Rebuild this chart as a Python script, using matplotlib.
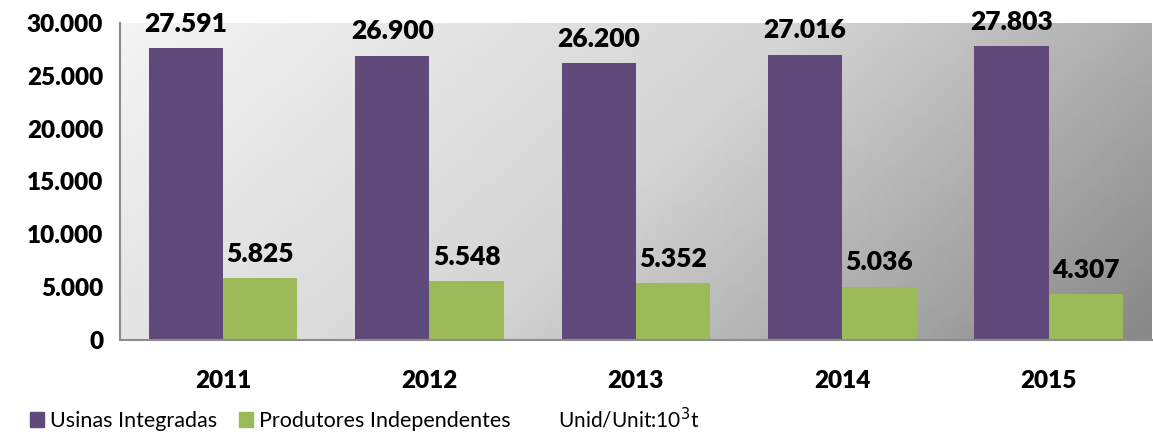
import numpy as np
import matplotlib.pyplot as plt
from matplotlib.colors import LinearSegmentedColormap
from matplotlib.patches import Rectangle

years = ['2011', '2012', '2013', '2014', '2015']
usinas = [27591, 26900, 26200, 27016, 27803]
produtores = [5825, 5548, 5352, 5036, 4307]
series_names = ['Usinas Integradas', 'Produtores Independentes']
yticks = [0, 5000, 10000, 15000, 20000, 25000, 30000]

PURPLE = '#604A7B'
GREEN = '#9BBB59'
BOLD = 'heavy'

plt.rcParams['font.family'] = ['Lato', 'DejaVu Sans']


def fmt(v):
    # thousands separator as dot (pt-BR)
    return f"{v:,}".replace(',', '.')


fig = plt.figure(figsize=(11.53, 4.34), dpi=100)
ax = fig.add_axes([0.104, 0.217, 0.895, 0.730])

# diagonal gray gradient for the plot area
nx, ny = 200, 60
gx, gy = np.meshgrid(np.linspace(0, 1, nx), np.linspace(1, 0, ny))
t = (gx * 0.75 + (1 - gy) * 0.25)
cmap = LinearSegmentedColormap.from_list('bg', ['#f4f4f4', '#d4d4d4', '#888888'])
ax.imshow(t, cmap=cmap, extent=[0, 1, 0, 1], transform=ax.transAxes,
          aspect='auto', zorder=0, vmin=0, vmax=1)

x = np.arange(len(years))
w = 0.36
b1 = ax.bar(x - w / 2, usinas, w, color=PURPLE, zorder=2, label=series_names[0])
b2 = ax.bar(x + w / 2, produtores, w, color=GREEN, zorder=2, label=series_names[1])

for bars, vals in [(b1, usinas), (b2, produtores)]:
    for r, v in zip(bars, vals):
        ax.annotate(fmt(v), (r.get_x() + r.get_width() / 2, v),
                    xytext=(0, 9), textcoords='offset points',
                    ha='center', va='bottom', fontsize=19, fontweight=BOLD,
                    annotation_clip=False)

ax.set_xlim(-0.5, len(years) - 0.5)
ax.set_ylim(0, 30000)
ax.set_yticks(yticks)
ax.set_yticklabels([fmt(v) for v in yticks], fontsize=17.5, fontweight=BOLD)
ax.set_xticks(x)
ax.set_xticklabels(years, fontsize=17.5, fontweight=BOLD)
ax.tick_params(length=0, pad=12)
ax.tick_params(axis='x', pad=22)

for s in ['top', 'right']:
    ax.spines[s].set_visible(False)
for s in ['left', 'bottom']:
    ax.spines[s].set_color('#8c8c8c')
    ax.spines[s].set_linewidth(1.5)
    ax.spines[s].set_zorder(3)

# legend row at the bottom
leg = fig.legend(handles=[Rectangle((0, 0), 1, 1, color=PURPLE),
                          Rectangle((0, 0), 1, 1, color=GREEN)],
                 labels=series_names, loc='lower left',
                 bbox_to_anchor=(0.009, -0.038), ncol=2, frameon=False,
                 fontsize=15.5, handlelength=0.65, handleheight=0.65,
                 handletextpad=0.3, columnspacing=1.0)
fig.text(0.484, 0.035, 'Unid/Unit:10$^{3}$t', fontsize=15, ha='left', va='center')

fig.savefig('out.png', dpi=100)
